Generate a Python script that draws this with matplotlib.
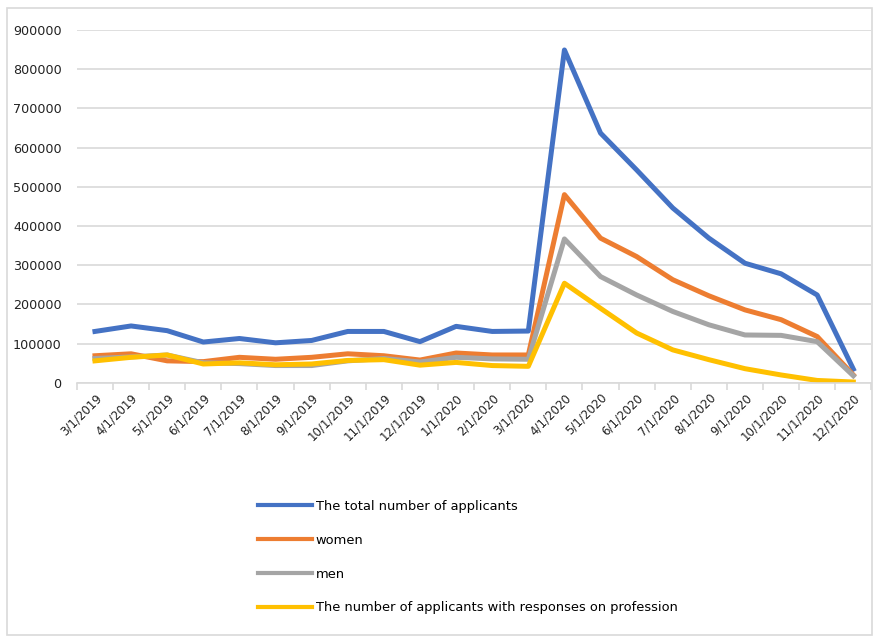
import numpy as np
import matplotlib
matplotlib.use("Agg")
import matplotlib.pyplot as plt
from matplotlib.patches import Rectangle

# monthly dates (category labels)
dates = ["3/1/2019", "4/1/2019", "5/1/2019", "6/1/2019", "7/1/2019", "8/1/2019",
         "9/1/2019", "10/1/2019", "11/1/2019", "12/1/2019", "1/1/2020", "2/1/2020",
         "3/1/2020", "4/1/2020", "5/1/2020", "6/1/2020", "7/1/2020", "8/1/2020",
         "9/1/2020", "10/1/2020", "11/1/2020", "12/1/2020"]

total = [131000, 145000, 133000, 104000, 113000, 102000, 108000, 131000, 131000, 105000,
         144000, 131000, 132000, 849000, 637000, 543000, 446000, 369000, 305000, 278000,
         224000, 35000]
women = [69000, 74000, 56000, 54000, 65000, 60000, 65000, 74000, 69000, 58000,
         76000, 71000, 71000, 480000, 369000, 322000, 263000, 222000, 186000, 161000,
         118000, 20000]
men = [62000, 66000, 71000, 51000, 49000, 44000, 44000, 56000, 62000, 53000,
       65000, 61000, 60000, 367000, 271000, 224000, 182000, 148000, 122000, 121000,
       105000, 18000]
profession = [56000, 65000, 71000, 48000, 51000, 46000, 48000, 57000, 59000, 45000,
              52000, 44000, 42000, 254000, 190000, 127000, 84000, 59000, 36000, 20000,
              6000, 2000]

series_names = ["The total number of applicants", "women", "men",
                "The number of applicants with responses on profession"]
colors = ["#4472C4", "#ED7D31", "#A5A5A5", "#FFC000"]

fig = plt.figure(figsize=(8.74, 6.38), dpi=100)
ax = fig.add_axes([0.088, 0.400, 0.909, 0.553])

x = np.arange(len(dates))
for vals, name, c in zip([total, women, men, profession], series_names, colors):
    ax.plot(x, vals, color=c, lw=3.6, label=name, solid_joinstyle="round")

ax.set_xlim(-0.5, len(dates) - 0.5)
ax.set_ylim(0, 900000)
ax.set_yticks(np.arange(0, 900001, 100000))
ax.yaxis.grid(True, color="#d9d9d9", lw=1.2)
ax.set_axisbelow(True)
for s in ["top", "right", "left"]:
    ax.spines[s].set_visible(False)
ax.spines["bottom"].set_color("#d9d9d9")
ax.spines["bottom"].set_linewidth(1.2)
ax.tick_params(axis="y", length=0, pad=11, labelsize=9.2, labelcolor="#222222")

ax.set_xticks(x)
ax.set_xticklabels(dates, rotation=45, ha="right", rotation_mode="anchor",
                   fontsize=8.5, color="#222222")
ax.tick_params(axis="x", which="major", length=0, pad=6)
ax.set_xticks(np.arange(-0.5, len(dates), 1), minor=True)
ax.tick_params(axis="x", which="minor", length=5, color="#d9d9d9", width=1.2)

leg = fig.legend(loc="upper left", bbox_to_anchor=(0.282, 0.235), frameon=False,
                 fontsize=9.4, handlelength=4.1, labelspacing=1.6, handletextpad=0.3)
for h in leg.get_lines():
    h.set_linewidth(3.0)

fig.patches.append(Rectangle((0.008, 0.005), 0.99, 0.983, transform=fig.transFigure,
                             fill=False, edgecolor="#d9d9d9", lw=1.2))

fig.savefig("out.png", dpi=100)
